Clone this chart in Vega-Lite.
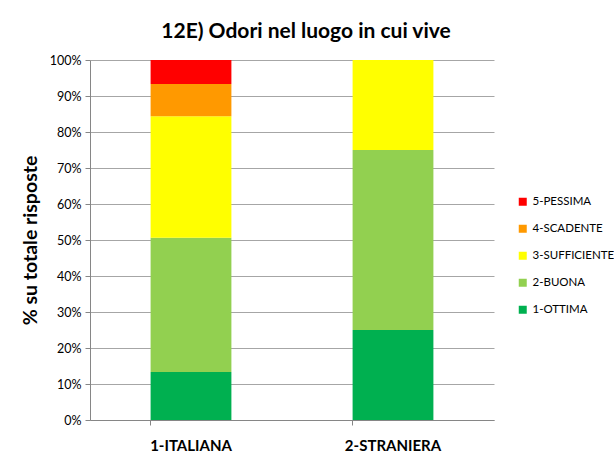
{
  "$schema": "https://vega.github.io/schema/vega-lite/v6.json",
  "width": 404,
  "height": 360,
  "autosize": "none",
  "padding": {"left": 90, "top": 60, "right": 120, "bottom": 34},
  "background": "white",
  "title": {
    "text": "12E) Odori nel luogo in cui vive",
    "font": "Lato",
    "fontSize": 21,
    "fontWeight": "bold",
    "color": "#000000",
    "anchor": "middle",
    "dx": 14,
    "offset": 12
  },
  "data": {
    "values": [
      {"nazionalita": "1-ITALIANA", "giudizio": "1-OTTIMA", "quota": 0.133},
      {"nazionalita": "1-ITALIANA", "giudizio": "2-BUONA", "quota": 0.373},
      {"nazionalita": "1-ITALIANA", "giudizio": "3-SUFFICIENTE", "quota": 0.338},
      {"nazionalita": "1-ITALIANA", "giudizio": "4-SCADENTE", "quota": 0.089},
      {"nazionalita": "1-ITALIANA", "giudizio": "5-PESSIMA", "quota": 0.067},
      {"nazionalita": "2-STRANIERA", "giudizio": "1-OTTIMA", "quota": 0.25},
      {"nazionalita": "2-STRANIERA", "giudizio": "2-BUONA", "quota": 0.5},
      {"nazionalita": "2-STRANIERA", "giudizio": "3-SUFFICIENTE", "quota": 0.25},
      {"nazionalita": "2-STRANIERA", "giudizio": "4-SCADENTE", "quota": 0},
      {"nazionalita": "2-STRANIERA", "giudizio": "5-PESSIMA", "quota": 0}
    ]
  },
  "mark": {"type": "bar"},
  "encoding": {
    "x": {
      "field": "nazionalita",
      "type": "nominal",
      "scale": {"paddingInner": 0.6, "paddingOuter": 0.3},
      "axis": {
        "title": null,
        "labelAngle": 0,
        "labelFont": "Lato",
        "labelFontSize": 15,
        "labelFontWeight": "bold",
        "labelColor": "#000000",
        "labelPadding": 13,
        "bandPosition": 0,
        "tickSize": 5,
        "tickColor": "#868686",
        "domainColor": "#868686",
        "grid": false
      }
    },
    "y": {
      "field": "quota",
      "type": "quantitative",
      "stack": "zero",
      "scale": {"domain": [0, 1]},
      "axis": {
        "title": "% su totale risposte",
        "titleFont": "Lato",
        "titleFontSize": 19.5,
        "titleFontWeight": "bold",
        "titleColor": "#000000",
        "titlePadding": 9,
        "format": ".0%",
        "values": [0, 0.1, 0.2, 0.3, 0.4, 0.5, 0.6, 0.7, 0.8, 0.9, 1],
        "labelFont": "Lato",
        "labelFontSize": 12.5,
        "labelColor": "#000000",
        "labelPadding": 4,
        "tickSize": 5,
        "tickColor": "#868686",
        "domainColor": "#868686",
        "grid": true,
        "gridColor": "#a6a6a6",
        "gridWidth": 1
      }
    },
    "color": {
      "field": "giudizio",
      "type": "nominal",
      "scale": {
        "domain": ["5-PESSIMA", "4-SCADENTE", "3-SUFFICIENTE", "2-BUONA", "1-OTTIMA"],
        "range": ["#ff0000", "#ff9900", "#ffff00", "#92d050", "#00b050"]
      },
      "legend": {
        "title": null,
        "orient": "none",
        "legendX": 427,
        "legendY": 136,
        "symbolType": "square",
        "symbolSize": 64,
        "symbolStrokeWidth": 0,
        "labelFont": "Lato",
        "labelFontSize": 11.5,
        "labelColor": "#000000",
        "labelOffset": 4,
        "rowPadding": 14
      }
    },
    "order": {"field": "giudizio", "sort": "ascending"}
  },
  "config": {
    "view": {"stroke": null}
  }
}
